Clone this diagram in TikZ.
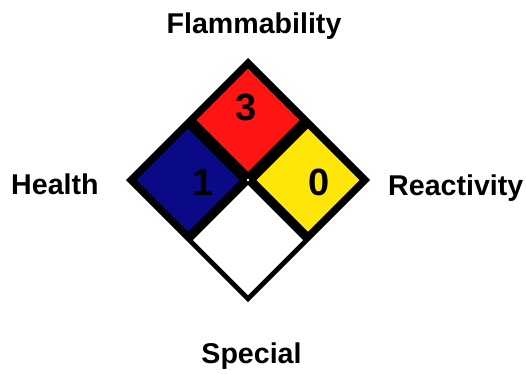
\documentclass[tikz,border=0pt]{standalone}
\usepackage{fontspec}
\setmainfont{Liberation Sans}
\usetikzlibrary{calc}
\definecolor{nfpared}{RGB}{255,20,20}
\definecolor{nfpablue}{RGB}{10,10,135}
\definecolor{nfpayellow}{RGB}{255,230,10}
\begin{document}
\begin{tikzpicture}[x=1pt,y=1pt,
  lbl/.style={inner sep=0pt,font=\fontsize{28.6}{30}\selectfont\bfseries},
  num/.style={inner sep=0pt,font=\fontsize{38}{40}\selectfont\bfseries}]
\useasboundingbox (0,0) rectangle (526,-373);
\coordinate (C) at (248,-180);
% outer black diamond
\fill[black] ($(C)+(0,122)$) -- ($(C)+(122,0)$) -- ($(C)+(0,-122)$) -- ($(C)+(-122,0)$) -- cycle;
% coloured squares
\fill[nfpared] ($(C)+(0,60+51.5)$) -- ($(C)+(51.5,60)$) -- ($(C)+(0,60-51.5)$) -- ($(C)+(-51.5,60)$) -- cycle;
\fill[nfpablue] ($(C)+(-60,51.5)$) -- ($(C)+(-60+51.5,0)$) -- ($(C)+(-60,-51.5)$) -- ($(C)+(-60-51.5,0)$) -- cycle;
\fill[nfpayellow] ($(C)+(60,51.5)$) -- ($(C)+(60+51.5,0)$) -- ($(C)+(60,-51.5)$) -- ($(C)+(60-51.5,0)$) -- cycle;
\fill[white] ($(C)+(0,-60+55)$) -- ($(C)+(55,-60)$) -- ($(C)+(0,-60-55)$) -- ($(C)+(-55,-60)$) -- cycle;
\fill[white] (C) circle (1.3);
% numbers
\node[num] (n3) at (246,-107) {3};
\node[num] (n1) at (203,-182) {1};
\node[num] (n0) at (319,-182) {0};
% labels
\node[lbl,anchor=base] (flam) at (254,-33) {Flammability};
\node[lbl,anchor=base west] (health) at (11,-194) {Health};
\node[lbl,anchor=base west] (react) at (388,-195) {Reactivity};
\node[lbl,anchor=base] (spec) at (251.5,-363) {Special};
\end{tikzpicture}
\end{document}
